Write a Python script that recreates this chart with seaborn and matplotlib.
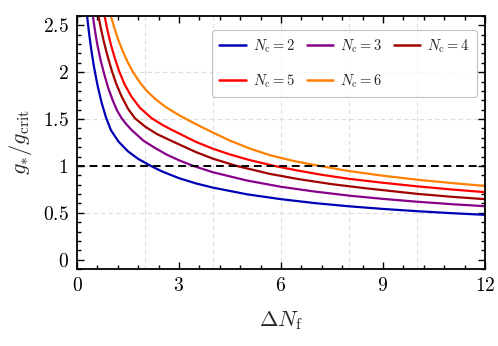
import numpy as np
import pandas as pd
import seaborn as sns
import matplotlib.pyplot as plt
from matplotlib.ticker import MultipleLocator, FuncFormatter

# values
nc_labels = ["2", "3", "4", "5", "6"]
colors = ["#0000b4", "#86008a", "#a00000", "#ff0000", "#ff8000"]

x_nc2 = [0.29, 0.35, 0.42, 0.5, 0.6, 0.72, 0.85, 1.0, 1.22, 1.5, 1.8, 2.17, 2.5, 3.0,
         3.5, 4.0, 5.0, 6.0, 7.0, 8.0, 9.0, 10, 11, 12]
y_nc2 = [2.62, 2.43, 2.24, 2.056, 1.866, 1.68, 1.52, 1.38, 1.26, 1.155, 1.075, 1.0, 0.941, 0.869,
         0.813, 0.768, 0.697, 0.645, 0.603, 0.569, 0.541, 0.517, 0.496, 0.478]

x_nc3 = [0.46, 0.53, 0.6, 0.7, 0.8, 0.92, 1.05, 1.18, 1.31, 1.45, 1.6, 1.95, 2.3, 2.64,
         3.0, 3.42, 4.0, 5.0, 6.0, 7.0, 8.0, 9.0, 10, 11, 12]
y_nc3 = [2.62, 2.44, 2.29, 2.12, 1.98, 1.83, 1.70, 1.59, 1.51, 1.445, 1.385, 1.27, 1.19, 1.12,
         1.06, 1.0, 0.932, 0.844, 0.777, 0.726, 0.683, 0.648, 0.618, 0.592, 0.57]

x_nc4 = [0.62, 0.7, 0.8, 0.9, 1.02, 1.15, 1.3, 1.5, 1.7, 2.0, 2.35, 2.73, 3.03, 3.5,
         4.0, 4.69, 5.67, 6.5, 7.5, 8.5, 10, 11, 12]
y_nc4 = [2.62, 2.47, 2.31, 2.17, 2.02, 1.88, 1.75, 1.61, 1.51, 1.42, 1.34, 1.275, 1.225, 1.147,
         1.077, 1.0, 0.915, 0.86, 0.805, 0.761, 0.702, 0.671, 0.645]

x_nc5 = [0.8, 0.9, 1.0, 1.12, 1.24, 1.4, 1.6, 1.85, 2.19, 2.5, 2.73, 3.03, 3.5, 4.0,
         4.5, 5.08, 5.8, 6.5, 7.2, 8.0, 9.0, 10, 11, 12]
y_nc5 = [2.62, 2.44, 2.29, 2.14, 2.01, 1.87, 1.74, 1.62, 1.51, 1.44, 1.395, 1.341, 1.256, 1.183,
         1.122, 1.062, 1.0, 0.95, 0.905, 0.862, 0.82, 0.782, 0.749, 0.72]

x_nc6 = [0.98, 1.1, 1.22, 1.35, 1.5, 1.65, 1.85, 2.05, 2.3, 2.6, 3.03, 3.5, 4.0, 4.5,
         5.08, 5.67, 6.4, 7.14, 8.0, 9.0, 10, 11, 12]
y_nc6 = [2.62, 2.47, 2.34, 2.22, 2.1, 2.0, 1.89, 1.80, 1.715, 1.63, 1.535, 1.445, 1.355, 1.27,
         1.185, 1.115, 1.05, 1.0, 0.945, 0.895, 0.853, 0.818, 0.786]

xs = [x_nc2, x_nc3, x_nc4, x_nc5, x_nc6]
ys = [y_nc2, y_nc3, y_nc4, y_nc5, y_nc6]

grid_x = [2, 4, 6, 8, 10]
grid_y = [0.5, 1.0, 1.5, 2.0]
critical = 1.0

frames = []
for lab, x, y in zip(nc_labels, xs, ys):
    frames.append(pd.DataFrame({"dNf": x, "ratio": y,
                                "Nc": r"$N_\mathrm{c} = %s$" % lab}))
df = pd.concat(frames, ignore_index=True)

sns.set_theme(style="ticks")
plt.rcParams["font.family"] = ["DejaVu Serif"]
plt.rcParams["mathtext.fontset"] = "cm"

fig = plt.figure(figsize=(4.98, 3.46), dpi=100)
ax = fig.add_axes([0.1546, 0.2225, 0.8193, 0.7315])

for gx in grid_x:
    ax.axvline(gx, color="#dddddd", lw=0.8, ls=(0, (4, 3)), zorder=0)
for gy in grid_y:
    ax.axhline(gy, color="#dddddd", lw=0.8, ls=(0, (4, 3)), zorder=0)

sns.lineplot(data=df, x="dNf", y="ratio", hue="Nc", palette=colors,
             sort=False, estimator=None, lw=1.6, ax=ax)
ax.axhline(critical, color="black", lw=1.4, ls=(0, (4, 2.5)), zorder=3)

ax.set_xlim(0, 12)
ax.set_ylim(-0.1, 2.6)
ax.xaxis.set_major_locator(MultipleLocator(3))
ax.xaxis.set_minor_locator(MultipleLocator(0.6))
ax.yaxis.set_major_locator(MultipleLocator(0.5))
ax.yaxis.set_minor_locator(MultipleLocator(0.1))
fmt = FuncFormatter(lambda v, p: "$%g$" % round(v, 2))
ax.xaxis.set_major_formatter(fmt)
ax.yaxis.set_major_formatter(fmt)
ax.tick_params(which="both", direction="in", top=True, right=True,
               width=1.0, labelsize=14, colors="black")
ax.tick_params(which="major", length=5, pad=6)
ax.tick_params(which="minor", length=3)
for s in ax.spines.values():
    s.set_linewidth(1.3)
    s.set_color("black")

ax.set_xlabel(r"$\Delta N_\mathrm{f}$", fontsize=16, labelpad=10)
ax.set_ylabel(r"$g_{*}/g_\mathrm{crit}$", fontsize=16, labelpad=6)

# row-wise legend order: 2 3 4 / 5 6
handles, labels = ax.get_legend_handles_labels()
order = [0, 3, 1, 4, 2]
leg = ax.legend([handles[i] for i in order], [labels[i] for i in order],
                loc="upper right", bbox_to_anchor=(0.98, 0.945), ncol=3,
                fontsize=10.5, frameon=True, fancybox=True, borderaxespad=0,
                handlelength=1.8, columnspacing=0.8, handletextpad=0.48,
                labelspacing=1.2, borderpad=0.5)
leg.get_frame().set_edgecolor("#b0b0b0")
leg.get_frame().set_linewidth(0.8)
for line in leg.get_lines():
    line.set_linewidth(1.8)

fig.savefig("out.png", dpi=100)
